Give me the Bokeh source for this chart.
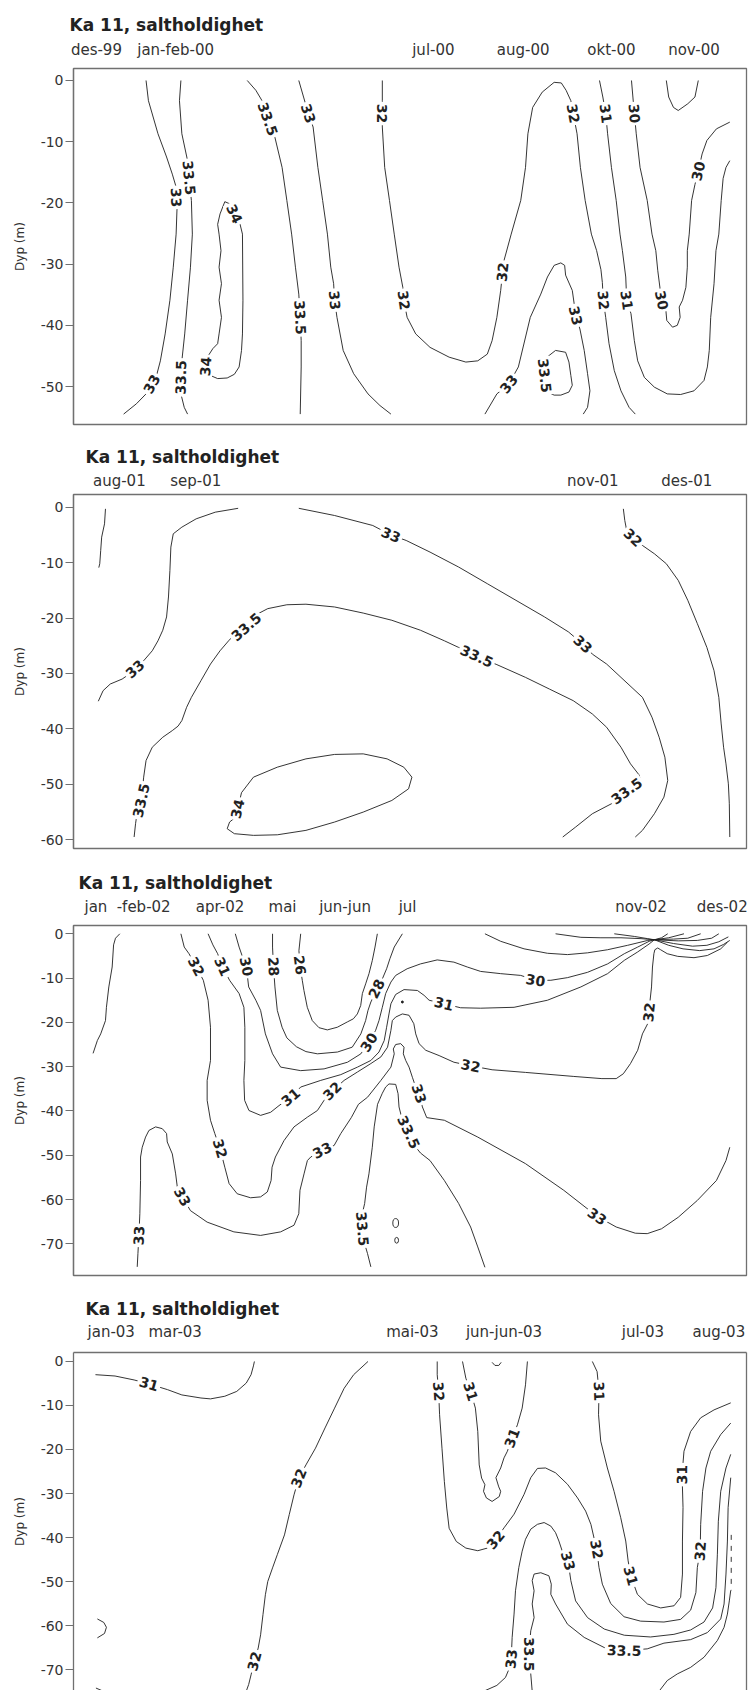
import math
from bokeh.plotting import figure
from bokeh.models import Range1d, FixedTicker, LinearAxis, ColumnDataSource
from bokeh.layouts import column
from bokeh.embed import file_html
from bokeh.resources import INLINE
from bokeh.core.properties import value

TITLE = "Ka 11, saltholdighet"
Y_LABEL = "Dyp (m)"
X_START, X_END = 153, 1563   # time axis (arbitrary units across each section)

# ---------------- panel 1 ----------------
P1_DATE_POS = [201, 367, 907, 1095, 1280, 1453]
P1_DATE_TXT = ["des-99", "jan-feb-00", "jul-00", "aug-00", "okt-00", "nov-00"]
P1_DEPTHS = [0, -10, -20, -30, -40, -50]
P1_LINES = [
    (33, [(305,0),(310,-3.3),(330,-8.7),(348,-12.5),(360,-15.3),(368,-17.4),(368,-19.1),(370,-20.7),(368,-25.1),(362,-30.5),(355,-35.9),(345,-41.4),(335,-45.8),(328,-47.9),(317,-49.6),(305,-51.2),(285,-52.8),(258,-54.5)]),
    (33.5, [(378,0),(375,-3.3),(380,-8.7),(392,-13.1),(395,-15.9),(400,-19.6),(402,-25.1),(398,-30.5),(392,-35.9),(386,-41.4),(380,-45.8),(378,-48.5),(378,-51.2),(385,-53.4),(392,-54.5)]),
    (34, [(470,-19.8),(482,-20.2),(490,-21.8),(502,-23.5),(507,-25.1),(508,-35.9),(507,-41.4),(505,-44.1),(500,-46.8),(490,-48.0),(475,-48.6),(455,-48.7),(440,-48.2),(433,-47.4),(430,-46.7),(435,-45.0),(445,-43.8),(455,-43.0),(458,-41.4),(463,-38.7),(458,-35.9),(463,-33.2),(458,-30.5),(462,-27.8),(458,-25.1),(455,-23.5),(460,-21.8),(470,-19.8)]),
    (33.5, [(517,0),(535,-1.6),(548,-3.3),(560,-6.3),(575,-9.3),(590,-14.2),(600,-19.6),(610,-25.1),(618,-30.5),(625,-34.9),(628,-38.7),(630,-42.5),(630,-46.8),(628,-54.5)]),
    (33, [(625,0),(635,-2.7),(645,-5.4),(655,-7.6),(665,-14.2),(675,-19.6),(685,-25.1),(692,-30.5),(698,-33.2),(700,-35.9),(705,-38.7),(718,-44.1),(740,-47.9),(770,-51.2),(795,-53.1),(818,-54.5)]),
    (32, [(800,0),(800,-3.3),(800,-5.4),(800,-7.6),(805,-14.2),(815,-19.6),(825,-25.1),(835,-30.5),(843,-33.8),(845,-35.9),(852,-38.7),(870,-41.4),(900,-43.6),(940,-45.2),(975,-46.0),(1000,-45.8),(1020,-44.7),(1030,-42.5),(1040,-38.7),(1048,-34.3),(1052,-31.3),(1055,-29.4),(1070,-25.1),(1090,-19.6),(1100,-14.2),(1105,-8.7),(1115,-4.4),(1135,-1.9),(1160,-0.3),(1175,-0.4),(1185,-1.6),(1195,-3.3),(1200,-5.4),(1208,-8.7),(1215,-14.2),(1225,-19.6),(1238,-25.1),(1249,-27.8),(1258,-30.9),(1261,-33.0),(1263,-35.9),(1268,-38.7),(1275,-43.0),(1286,-47.4),(1300,-50.7),(1317,-53.4),(1330,-54.5)]),
    (33, [(1015,-54.5),(1040,-51.2),(1065,-49.6),(1085,-46.8),(1110,-38.7),(1132,-34.9),(1146,-32.1),(1160,-30.2),(1174,-29.8),(1182,-30.2),(1184,-31.8),(1198,-34.3),(1202,-36.5),(1205,-38.4),(1214,-40.6),(1223,-44.1),(1230,-47.9),(1235,-50.7),(1230,-53.4),(1221,-54.5)]),
    (33.5, [(1163,-44.1),(1184,-44.4),(1191,-46.0),(1195,-48.2),(1198,-49.8),(1191,-50.9),(1174,-51.4),(1160,-51.4),(1146,-50.9),(1140,-48.2),(1140,-46.8),(1145,-45.2),(1163,-44.1)]),
    (31, [(1255,0),(1262,-2.7),(1268,-5.4),(1272,-8.7),(1280,-14.2),(1290,-19.6),(1298,-25.1),(1303,-27.8),(1310,-32.1),(1312,-35.9),(1321,-38.1),(1328,-42.5),(1335,-45.8),(1349,-48.5),(1370,-50.1),(1397,-51.2),(1425,-51.3),(1453,-50.7),(1474,-49.0),(1481,-46.8),(1485,-44.1),(1488,-38.7),(1495,-33.2),(1499,-27.8),(1505,-25.1),(1510,-19.6),(1514,-16.0),(1520,-14.2),(1528,-13.1)]),
    (30, [(1322,0),(1325,-2.7),(1328,-5.4),(1332,-8.7),(1340,-14.2),(1355,-19.6),(1365,-25.1),(1373,-27.8),(1377,-31.0),(1385,-35.9),(1394,-37.5),(1396,-39.2),(1408,-40.3),(1418,-40.0),(1424,-38.7),(1422,-37.0),(1429,-35.9),(1436,-33.8),(1439,-30.5),(1439,-27.8),(1443,-25.1),(1448,-19.6),(1455,-17.0),(1462,-14.8),(1470,-12.0),(1480,-9.8),(1500,-7.9),(1528,-6.8)]),
    (30, [(1395,0),(1400,-2.7),(1410,-4.4),(1420,-4.9),(1440,-3.8),(1455,-2.7),(1462,0)]),
]
P1_LABELS = [(33,368,-19.1),(33,317,-49.6),(33.5,395,-15.9),(33.5,378,-48.5),(34,490,-21.8),(34,430,-46.7),
             (33.5,560,-6.3),(33.5,628,-38.7),(33,645,-5.4),(33,700,-35.9),(32,800,-5.4),(32,845,-35.9),
             (32,1052,-31.3),(32,1200,-5.4),(32,1263,-35.9),(33,1065,-49.6),(33,1205,-38.4),(33.5,1140,-48.2),
             (31,1268,-5.4),(31,1312,-35.9),(30,1328,-5.4),(30,1385,-35.9),(30,1462,-14.8)]

# ---------------- panel 2 ----------------
P2_DATE_POS = [249, 409, 1241, 1438]
P2_DATE_TXT = ["aug-01", "sep-01", "nov-01", "des-01"]
P2_DEPTHS = [0, -10, -20, -30, -40, -50, -60]
P2_LINES = [
    (33, [(220,-0.3),(218,-3.0),(212,-5.4),(210,-7.8),(208,-10.2),(206,-10.9)]),
    (33, [(205,-35.0),(215,-33.1),(230,-31.9),(255,-31.0),(270,-30.1),(282,-29.2),(300,-27.7),(318,-25.9),(330,-24.1),(340,-22.2),(348,-19.8),(352,-16.2),(355,-11.4),(357,-7.2),(362,-4.8),(380,-3.6),(410,-2.1),(450,-0.9),(498,-0.2)]),
    (33, [(625,-0.2),(700,-1.5),(780,-3.3),(800,-4.2),(818,-5.0),(850,-6.0),(900,-8.1),(960,-10.8),(1020,-13.8),(1080,-16.8),(1140,-19.8),(1190,-22.5),(1220,-24.7),(1240,-26.5),(1270,-28.3),(1300,-30.7),(1345,-34.3),(1365,-37.9),(1380,-41.5),(1392,-45.1),(1398,-49.3),(1390,-52.3),(1370,-55.3),(1345,-58.3),(1330,-59.5)]),
    (33.5, [(280,-59.5),(283,-57.1),(287,-54.7),(295,-52.9),(298,-50.5),(300,-48.7),(305,-45.7),(318,-43.3),(340,-41.5),(360,-40.3),(372,-39.5),(380,-38.5),(390,-36.1),(400,-34.3),(420,-31.3),(440,-28.3),(460,-25.9),(478,-24.1),(490,-23.0),(515,-21.6),(540,-19.2),(560,-18.3),(600,-17.6),(640,-17.5),(700,-18.0),(760,-19.1),(820,-20.4),(880,-22.2),(930,-24.1),(960,-25.3),(998,-26.9),(1040,-28.4),(1100,-30.7),(1150,-32.8),(1200,-34.9),(1240,-37.3),(1270,-39.7),(1300,-43.3),(1320,-46.3),(1338,-48.3),(1342,-49.6),(1312,-51.2),(1280,-53.5),(1240,-55.3),(1205,-57.7),(1178,-59.5)]),
    (34, [(505,-51.5),(530,-48.7),(580,-46.9),(640,-45.4),(700,-44.6),(760,-44.5),(810,-45.4),(845,-46.9),(862,-48.7),(855,-50.8),(820,-52.9),(760,-55.0),(700,-56.8),(640,-58.3),(580,-59.1),(530,-59.2),(490,-58.9),(475,-58.0),(480,-56.8),(493,-55.9),(497,-54.4),(505,-51.5)]),
    (32, [(1305,-0.3),(1308,-2.4),(1312,-4.2),(1325,-5.5),(1345,-6.9),(1370,-8.4),(1395,-10.2),(1420,-13.2),(1440,-16.8),(1460,-21.0),(1480,-25.3),(1495,-29.5),(1505,-34.3),(1510,-39.1),(1515,-43.3),(1520,-46.3),(1525,-49.9),(1527,-53.5),(1528,-59.5)]),
]
P2_LABELS = [(33,282,-29.2),(33,818,-5.0),(33,1220,-24.7),(33.5,295,-52.9),(33.5,515,-21.6),(33.5,998,-26.9),
             (33.5,1312,-51.2),(34,497,-54.4),(32,1325,-5.5)]

# ---------------- panel 3 ----------------
P3_DATE_POS = [200, 300, 460, 591, 722, 853, 1342, 1512]
P3_DATE_TXT = ["jan", "-feb-02", "apr-02", "mai", "jun-jun", "jul", "nov-02", "des-02"]
P3_DEPTHS = [0, -10, -20, -30, -40, -50, -60, -70]
P3_LINES = [
    (33, [(250,0),(241,-1),(237,-2.5),(234,-7.5),(227,-12),(222,-16.6),(220,-19.6),(210,-22.6),(203,-24.1),(194,-27)]),
    (32, [(378,0),(385,-3),(395,-4.5),(410,-7.4),(425,-10.5),(435,-15),(440,-21.1),(440,-28.6),(433,-33.1),(433,-37.6),(440,-42.1),(449,-45.1),(460,-48.5),(470,-52.7),(479,-56.4),(496,-58.7),(524,-59.6),(545,-59.4),(559,-58.3),(567,-55.7),(569,-52.7),(576,-50.4),(594,-46.7),(615,-43.6),(643,-41.4),(664,-39.9),(678,-37.6),(695,-35.5),(720,-33.1),(748,-31.2),(776,-29.3),(797,-27.8),(811,-25.6),(818,-21.8),(821,-19.6),(828,-18.8),(842,-18.1),(856,-18.4),(866,-20.3),(870,-22.6),(877,-24.8),(891,-26.3),(919,-27.5),(950,-29.0),(985,-29.8),(1030,-30.7),(1100,-31.3),(1200,-32.2),(1260,-32.7),(1290,-32.7),(1305,-31.6),(1320,-29.3),(1335,-26.3),(1345,-22.6),(1356,-20.3),(1359,-17.7),(1361,-15),(1364,-12),(1366,-7.5),(1369,-4.5),(1371,-3.6),(1377,-3.2),(1383,-3.6),(1397,-4.5),(1419,-5.1),(1453,-5.4),(1481,-4.9),(1509,-3.4),(1523,-1.9)]),
    (33, [(286.5,-75.2),(288,-72.2),(290,-68.1),(292,-63.2),(293.5,-55.7),(293.5,-50.4),(297,-48.2),(304,-45.9),(311,-44.4),(325,-43.6),(339,-44.0),(348,-45.1),(349.4,-47.0),(360,-49.7),(367,-54.2),(370.5,-57.2),(381,-59.4),(398,-62.5),(433,-65.1),(489,-67.3),(545,-68.1),(587,-67.3),(615,-65.8),(625,-63.2),(627.5,-57.9),(636,-54.2),(643,-51.2),(650,-50.4),(674,-48.9),(699,-47.8),(713,-45.1),(735,-41.5),(750,-38.5),(769,-36.9),(797,-33.1),(818,-30.1),(825,-27.1),(823,-26.0),(828,-25.0),(838.5,-24.8),(845.5,-25.6),(844,-27.1),(849,-28.6),(856,-30.1),(863,-32.4),(870,-34.6),(877,-36.1),(884,-39.1),(893,-41.5),(930,-42.1),(1000,-45.9),(1100,-51.9),(1180,-57.9),(1250,-63.8),(1290,-66.2),(1330,-67.6),(1355,-67.7),(1385,-66.6),(1420,-64.0),(1460,-60.2),(1500,-55.7),(1520,-51.2),(1528,-48.2)]),
    (33.5, [(776,-75.2),(769,-72.2),(763,-70.0),(758,-66.6),(758,-63.2),(763,-60.9),(767,-57.2),(772,-54.2),(779,-48.2),(783,-43.6),(790,-38.5),(800,-36.0),(807,-34.6),(814,-33.9),(828,-34.0),(833,-36.1),(835,-39.1),(842,-42.1),(855,-44.8),(865,-47.5),(880,-49.5),(900,-51.2),(930,-55.7),(960,-60.9),(985,-66.2),(1000,-70.7),(1015,-75.3)]),
    (31, [(435,0),(445,-2.5),(455,-4.5),(465,-7.4),(480,-10.5),(500,-13.5),(510,-16.6),(512,-21.1),(512,-28.6),(510,-33.1),(511.5,-37.6),(520.6,-39.9),(545,-41.0),(566,-40.3),(583.5,-38.8),(608,-36.9),(629,-34.6),(671,-33.1),(713,-31.8),(748,-30.1),(776,-28.6),(793,-26.7),(804,-24.1),(809,-21.1),(814,-18.1),(818,-15.8),(828,-13.7),(845.5,-12.6),(873.5,-12.8),(887.5,-13.9),(898,-15.0),(929,-15.8),(964,-16.7),(1006,-16.8),(1076,-16.6),(1146,-15.0),(1216,-12.0),(1272,-9.0),(1307,-6.0),(1335,-4.1),(1359,-2.3),(1370,-1.35)]),
    (30, [(492,0),(500,-3),(508,-5.5),(515,-7.4),(520,-12),(535,-15),(545,-17.3),(555,-22.6),(570,-27.1),(587,-30.1),(629,-30.9),(678,-30.5),(727,-29.0),(755,-27.1),(772,-24.5),(786,-21.8),(793,-19.6),(800,-16.6),(807,-13.5),(818,-10.9),(828,-9.4),(852,-7.9),(880,-6.8),(915,-5.9),(950,-6.4),(978,-7.5),(1006,-8.5),(1048,-9.0),(1090,-9.4),(1121,-10.5),(1153,-10.5),(1188,-9.9),(1230,-8.7),(1272,-6.8),(1307,-4.5),(1335,-3.0),(1359,-1.7),(1370,-1.35)]),
    (28, [(570,0),(570,-3),(572,-7.4),(575,-12),(580,-17.3),(590,-21.1),(600,-23.5),(620,-25.5),(640,-26.6),(664,-27.1),(706,-26.7),(737,-25.6),(755,-22.6),(765,-19.6),(770,-17.3),(776,-15.4),(783,-13.9),(788,-12.4),(800,-10.2),(809,-7.9),(816,-5.6),(825,-3),(842,0)]),
    (26, [(629,0),(625.3,-3.8),(627.4,-7.1),(632.3,-10.5),(635.8,-12.8),(642.8,-16.6),(653.3,-19.6),(667.3,-21.2),(684.8,-21.7),(705.7,-21.1),(726.7,-19.9),(739.3,-19.2),(747.7,-18.1),(754.7,-16.2),(758.2,-13.5),(765.1,-11.3),(772.1,-9.0),(779.1,-6.0),(784.7,-3.0),(789.6,0)]),
    (29, [(1015,0),(1048,-1.7),(1097,-3.4),(1146,-4.4),(1188,-4.7),(1230,-4.3),(1272,-3.6),(1314,-2.6),(1356,-1.5),(1370,-1.35)]),
    (29, [(1163,0),(1216,-0.8),(1258,-0.9),(1300,-0.9),(1342,-1.1),(1370,-1.35)]),
    (29, [(1286,0),(1328,-0.6),(1356,-1.1),(1370,-1.35)]),
    (29, [(1370,-1.35),(1385,-0.9),(1398,0)]),
    (29, [(1370,-1.35),(1400,-0.9),(1432,0)]),
    (29, [(1370,-1.35),(1410,-1.2),(1440,-1.0),(1467,0)]),
    (29, [(1370,-1.35),(1420,-1.6),(1460,-1.5),(1490,-1.0),(1505,0)]),
    (29, [(1370,-1.35),(1410,-2.2),(1450,-2.8),(1480,-2.6),(1505,-1.8),(1525,-0.7)]),
    (29, [(1370,-1.35),(1400,-2.6),(1430,-3.4),(1465,-3.8),(1495,-3.4),(1515,-2.4),(1528,-1.5)]),
]
P3_LABELS = [(32,410,-7.4),(31,465,-7.4),(30,515,-7.4),(28,572,-7.4),(26,627.4,-7.1),(28,788,-12.4),
             (30,772,-24.5),(31,608,-36.9),(32,695,-35.5),(31,929,-15.8),(30,1121,-10.5),(32,985,-29.8),
             (32,1359,-17.7),(33,877,-36.1),(33.5,855,-44.8),(33,674,-48.9),(32,460,-48.5),(33,381,-59.4),
             (33,290,-68.1),(33.5,758,-66.6),(33,1250,-63.8)]
P3_SMALL_RINGS = [(828,-65.3),(830,-69.2)]
P3_DOTS = [(842,-15.4)]

# ---------------- panel 4 ----------------
P4_DATE_POS = [232, 366, 863, 1055, 1346, 1505]
P4_DATE_TXT = ["jan-03", "mar-03", "mai-03", "jun-jun-03", "jul-03", "aug-03"]
P4_DEPTHS = [0, -10, -20, -30, -40, -50, -60, -70]
P4_LINES = [
    (31, [(199,-3.0),(240,-3.3),(280,-4.2),(311,-5.1),(350,-6.4),(380,-7.6),(420,-8.3),(440,-8.5),(470,-7.9),(495,-6.8),(515,-4.9),(525,-3.0),(530,-1.0),(532,0)]),
    (33, [(203,-58.5),(216.5,-59.3),(222,-60.4),(218,-61.8),(203,-62.8)]),
    (33, [(200,-74.2),(215,-74.9)]),
    (32, [(770,0),(740,-3.0),(720,-6.1),(700,-10.6),(680,-15.1),(660,-19.7),(640,-23.5),(625,-26.5),(615,-30.3),(605,-34.8),(595,-39.4),(580,-43.9),(570,-46.9),(560,-50.0),(555,-53.0),(550,-57.5),(545,-62.1),(540,-65.1),(532,-68.1),(525,-71.2),(520,-73.4),(515,-74.9)]),
    (32, [(915,0),(915,-3),(918,-6.8),(920,-12.1),(925,-19.7),(930,-27.3),(935,-33.3),(940,-37.9),(955,-40.9),(975,-42.4),(1000,-43.0),(1020,-42.4),(1037.5,-40.5),(1055,-37.8),(1076,-34.7),(1097,-30.2),(1111,-26.4),(1125,-24.3),(1142,-24.2),(1163,-25.3),(1188,-27.9),(1209,-31.0),(1226,-34.0),(1237,-37.0),(1249,-42.7),(1254,-46.8),(1261,-50.6),(1278.5,-55.0),(1306.5,-58.0),(1341,-59.0),(1390,-59.2),(1425,-58.6),(1446,-56.5),(1457,-52.5),(1460,-46.8),(1466,-43.1),(1467,-37.0),(1471,-29.5),(1478,-24.2),(1488,-20.4),(1509,-16.6),(1530,-14.0)]),
    (31, [(968,0),(975,-3.8),(985,-6.8),(995,-10.6),(1000,-15.9),(1003,-23.5),(1008,-26.5),(1015,-28.0),(1012,-29.5),(1018,-31.0),(1030,-31.8),(1045,-30.7),(1048,-29.5),(1044,-28.5),(1038,-26.4),(1048,-24.2),(1055,-21.9),(1062,-20.4),(1072,-17.4),(1083,-14.4),(1093,-10.6),(1100,-5.3),(1104,0)]),
    (30.5, [(1030,-0.2),(1036,-0.9),(1044,-0.9),(1049,-0.2)]),
    (31, [(1240,0),(1250,-2.3),(1254,-6.8),(1253,-12.1),(1257.6,-18.1),(1271.5,-24.2),(1285.5,-29.5),(1299.5,-35.5),(1310,-40.8),(1315,-45.3),(1320.5,-48.7),(1334.4,-52.9),(1355.4,-55.1),(1383.3,-56.0),(1411.3,-55.5),(1425,-53.6),(1428.8,-48.3),(1428.8,-40.8),(1430,-33.2),(1428,-25.7),(1432,-20.4),(1446,-15.9),(1467,-12.8),(1495,-11.0),(1530,-9.4)]),
    (33, [(1015,-74.8),(1040,-73.6),(1058,-71.8),(1065,-70.0),(1070,-67.6),(1072,-62.7),(1076,-57.4),(1079,-52.1),(1086,-46.8),(1093,-43.1),(1100,-40.4),(1111,-38.1),(1125,-37.0),(1139,-36.6),(1153,-37.4),(1163,-38.9),(1170,-40.8),(1177,-43.1),(1189,-45.3),(1195,-49.8),(1205,-54.4),(1230,-58.2),(1265,-60.8),(1307,-62.2),(1362,-62.6),(1411,-62.0),(1446,-61.0),(1474,-59.2),(1492,-56.0),(1499,-51.4),(1502,-43.8),(1504,-36.3),(1509,-29.5),(1520,-24.2),(1530,-21.1)]),
    (33.5, [(1114,-74.9),(1111,-71.0),(1107,-66.5),(1111,-61.2),(1118,-58.2),(1114,-55.1),(1118,-52.1),(1114,-49.8),(1118,-48.3),(1132,-48.0),(1149,-48.7),(1154,-50.6),(1153,-52.9),(1163,-55.1),(1188,-59.7),(1223,-62.7),(1265,-65.0),(1306.5,-65.7),(1355,-65.3),(1390,-64.0),(1446,-63.2),(1481,-61.6),(1509,-58.5),(1516,-55.1),(1520,-48.3),(1523,-40.8),(1524.5,-33.2),(1530,-26.4)]),
    (34, [(1380,-74.9),(1397,-72.5),(1418,-71.0),(1446,-69.5),(1474,-67.2),(1502,-63.4),(1516,-60.4),(1523,-57.4),(1527,-54.4),(1530,-52.0)]),
]
P4_EDGE_LINE = [(1531,-39.4),(1531,-52.0)]
P4_LABELS = [(31,311,-5.1),(32,625,-26.5),(32,532,-68.1),(32,918,-6.8),(31,985,-6.8),(31,1072,-17.4),
             (31,1254,-6.8),(32,1037.5,-40.5),(33,1189,-45.3),(32,1249,-42.7),(31,1320.5,-48.7),
             (31,1428,-25.7),(32,1466,-43.1),(33.5,1306.5,-65.7),(33,1070,-67.6),(33.5,1107,-66.5)]

# ---------------- layout / style ----------------
FRAME = "#707070"
INK = "#1e1e1e"
TXT = "#333333"
# height, min_border_top, min_border_bottom, y_top, y_bottom, date_standoff, title_offset, title_standoff, boxed
CFG = [
    (440, 68, 16, 1.96, -56.2, 10, -4, 6, True),
    (425, 54, 17, 2.29, -61.57, 5, 12, 3, True),
    (430, 60, 20, 1.87, -77.15, 10, 5, 4, True),
    (395, 56, 0, 2.04, -74.76, 12, 12, 2, False),
]
FRAME_W = 748 - 73 - 2


def label_rows(lines, labels, sx, sy):
    xs, ys, txt, ang = [], [], [], []
    for lev, lx, ly in labels:
        best = None
        for L, pts in lines:
            if L != lev:
                continue
            for i, (px, py) in enumerate(pts):
                d = ((px - lx) * sx) ** 2 + ((py - ly) * sy) ** 2
                if best is None or d < best[0]:
                    best = (d, pts, i)
        _, pts, i = best
        a = pts[max(i - 1, 0)]
        b = pts[min(i + 1, len(pts) - 1)]
        th = math.atan2((b[1] - a[1]) * sy, (b[0] - a[0]) * sx)
        if th >= math.pi / 2:
            th -= math.pi
        elif th < -math.pi / 2:
            th += math.pi
        xs.append(lx); ys.append(ly); txt.append(f"{lev:g}"); ang.append(th)
    return dict(x=xs, y=ys, text=txt, angle=ang)


def make_panel(lines, labels, date_pos, date_txt, depths, cfg):
    H, mbt, mbb, ytop, ybot, dso, toff, tso, boxed = cfg
    fh = H - mbt - mbb
    p = figure(width=748, height=H, x_range=Range1d(X_START, X_END), y_range=Range1d(ybot, ytop),
               x_axis_location="above", output_backend="svg", toolbar_location=None,
               min_border_left=73, min_border_right=2, min_border_top=mbt, min_border_bottom=mbb,
               title=TITLE)
    p.title.align = "left"
    p.title.offset = toff
    p.title.standoff = tso
    p.title.text_font = "DejaVu Sans"
    p.title.text_font_style = "bold"
    p.title.text_font_size = "17px"
    p.title.text_color = "#222222"

    p.xgrid.visible = False
    p.ygrid.visible = False
    p.background_fill_color = "white"
    p.border_fill_color = "white"
    if boxed:
        p.outline_line_color = FRAME
        p.outline_line_width = 1.3
    else:
        p.outline_line_color = None

    ax = p.xaxis[0]
    ax.ticker = FixedTicker(ticks=date_pos)
    ax.major_label_overrides = {d: t for d, t in zip(date_pos, date_txt)}
    ax.major_tick_line_color = None
    ax.minor_tick_line_color = None
    ax.major_tick_out = 0
    ax.major_tick_in = 0
    ax.major_label_standoff = dso
    ax.axis_line_color = None if boxed else FRAME
    ax.axis_line_width = 1.3
    ax.major_label_text_font = "DejaVu Sans"
    ax.major_label_text_font_size = "15px"
    ax.major_label_text_color = TXT

    ay = p.yaxis[0]
    ay.ticker = FixedTicker(ticks=depths)
    ay.major_label_overrides = {d: str(d) for d in depths}
    ay.minor_tick_line_color = None
    ay.major_tick_out = 8
    ay.major_tick_in = 0
    ay.major_tick_line_color = FRAME
    ay.major_tick_line_width = 1.2
    ay.axis_line_color = FRAME
    ay.axis_line_width = 1.3
    ay.major_label_standoff = 2
    ay.major_label_text_font = "DejaVu Sans"
    ay.major_label_text_font_size = "14px"
    ay.major_label_text_color = TXT
    ay.axis_label = Y_LABEL
    ay.axis_label_standoff = 11
    ay.axis_label_text_font = "DejaVu Sans"
    ay.axis_label_text_font_size = "12px"
    ay.axis_label_text_font_style = "normal"
    ay.axis_label_text_color = TXT

    if not boxed:
        ra = LinearAxis(ticker=FixedTicker(ticks=[]), axis_line_color=FRAME, axis_line_width=1.3,
                        major_tick_line_color=None, minor_tick_line_color=None,
                        major_label_text_font_size="0px", major_tick_out=0, major_tick_in=0,
                        major_label_standoff=0)
        p.add_layout(ra, "right")

    src = ColumnDataSource(dict(xs=[[q[0] for q in pts] for _, pts in lines],
                                ys=[[q[1] for q in pts] for _, pts in lines]))
    p.multi_line(xs="xs", ys="ys", source=src, line_color=INK, line_width=0.9)

    sx = FRAME_W / (X_END - X_START)
    sy = fh / (ytop - ybot)
    lsrc = ColumnDataSource(label_rows(lines, labels, sx, sy))
    p.text(x="x", y="y", text="text", angle="angle", source=lsrc,
           text_font=value("DejaVu Sans"), text_font_style="bold", text_font_size="14px",
           text_color="#222222", text_align="center", text_baseline="middle",
           background_fill_color="white", padding=2)
    return p


p1 = make_panel(P1_LINES, P1_LABELS, P1_DATE_POS, P1_DATE_TXT, P1_DEPTHS, CFG[0])
p2 = make_panel(P2_LINES, P2_LABELS, P2_DATE_POS, P2_DATE_TXT, P2_DEPTHS, CFG[1])
p3 = make_panel(P3_LINES, P3_LABELS, P3_DATE_POS, P3_DATE_TXT, P3_DEPTHS, CFG[2])
p4 = make_panel(P4_LINES, P4_LABELS, P4_DATE_POS, P4_DATE_TXT, P4_DEPTHS, CFG[3])

p3.ellipse(x=[c[0] for c in P3_SMALL_RINGS], y=[c[1] for c in P3_SMALL_RINGS],
           width=[12, 8], height=[2.0, 1.3], fill_color=None, line_color=INK, line_width=0.9)
p3.scatter(x=[c[0] for c in P3_DOTS], y=[c[1] for c in P3_DOTS], size=2, color=INK)
p4.line(x=[c[0] for c in P4_EDGE_LINE], y=[c[1] for c in P4_EDGE_LINE],
        line_color=INK, line_width=0.9, line_dash="5 6")

layout = column(p1, p2, p3, p4, spacing=0)
open("out.html", "w").write(file_html(layout, INLINE))
